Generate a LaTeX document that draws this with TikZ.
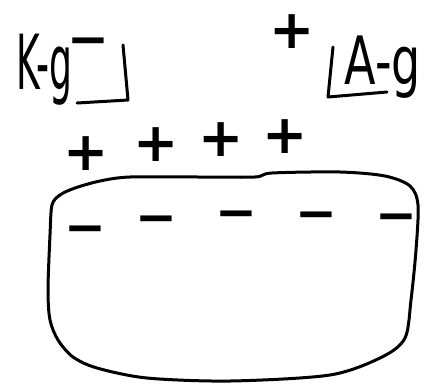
\documentclass[tikz,border=0pt]{standalone}
\usepackage{fontspec}
\setmainfont{DejaVu Sans}
\begin{document}
\begin{tikzpicture}[x=1pt,y=-1pt, line width=3pt, line cap=round, line join=round,
  sign/.style={font=\fontsize{54}{54}\selectfont\bfseries, inner sep=0pt},
  msign/.style={font=\fontsize{50}{50}\selectfont\bfseries, inner sep=0pt, yshift=-8pt},
  lbl/.style={inner sep=0pt, anchor=base west}]
\useasboundingbox (0,0) rectangle (441,383);
% labels
\node[lbl, font=\fontsize{38}{38}\selectfont] (kg) at (15,89) {\scalebox{0.95}[2]{K-g}};
\node[lbl, font=\fontsize{46}{46}\selectfont] (ag) at (343,84) {\scalebox{1}[1.45]{A-g}};
% brackets
\coordinate (kb1) at (123,45);
\coordinate (kb2) at (128,100);
\coordinate (kb3) at (77,103);
\draw (kb1) -- (kb2) -- (kb3);
\coordinate (ab1) at (333,47);
\coordinate (ab2) at (328,97);
\coordinate (ab3) at (387,92);
\draw (ab1) -- (ab2) -- (ab3);
% charges near electrodes
\node[msign] (mk) at (88,39) {−};
\node[sign] (pa) at (292,32) {+};
% plus row
\node[sign] (p1) at (86,154) {+};
\node[sign] (p2) at (156,145) {+};
\node[sign] (p3) at (221,140) {+};
\node[sign] (p4) at (285,137) {+};
% minus row
\node[msign] (m1) at (85,227) {−};
\node[msign] (m2) at (156,217) {−};
\node[msign] (m3) at (236,212) {−};
\node[msign] (m4) at (316,213) {−};
\node[msign] (m5) at (396,215) {−};
% vessel outline
\draw plot[smooth cycle, tension=0.5] coordinates {
 (50,235) (52,205) (60,195) (75,188) (100,181) (130,177) (200,177) (255,177)
 (272,173) (340,172) (385,176) (410,186) (418,205) (416,250) (411,300)
 (405,338) (382,357) (330,375) (230,381) (147,378) (97,368) (73,357)
 (58,340) (50,320) (48,290)};
\end{tikzpicture}
\end{document}
